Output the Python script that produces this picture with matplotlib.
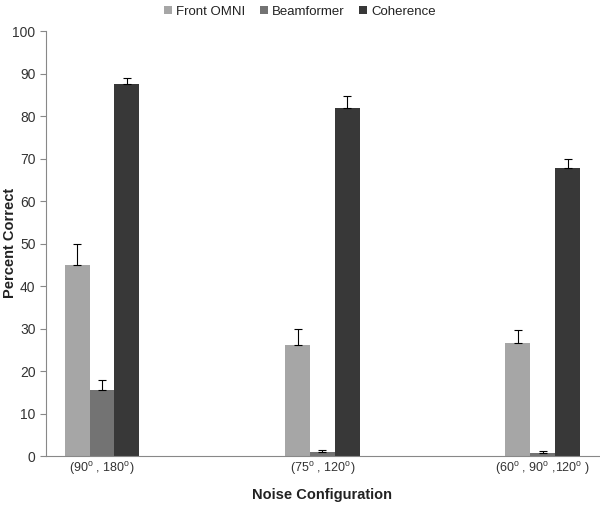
import matplotlib.pyplot as plt
import numpy as np

categories = [r'(90$^{\rm o}$ , 180$^{\rm o}$)', r'(75$^{\rm o}$ , 120$^{\rm o}$)', r'(60$^{\rm o}$ , 90$^{\rm o}$ ,120$^{\rm o}$ )']
series = ['Front OMNI', 'Beamformer', 'Coherence']
front = [45.0, 26.2, 26.5]
beam = [15.5, 1.0, 0.7]
coh = [87.5, 82.0, 67.7]
front_err = [5.0, 3.6, 3.1]
beam_err = [2.5, 0.5, 0.4]
coh_err = [1.5, 2.8, 2.3]
colors = ['#a6a6a6', '#737373', '#383838']

plt.rcParams['font.family'] = ['Liberation Sans', 'DejaVu Sans']
plt.rcParams['mathtext.fontset'] = 'custom'
plt.rcParams['mathtext.rm'] = 'Liberation Sans'
fig = plt.figure(figsize=(6, 5.05), dpi=100)
ax = fig.add_axes([0.0767, 0.097, 0.921, 0.8416])

x = np.arange(len(categories))
w = 0.113
handles = []
for i, (vals, errs) in enumerate([(front, front_err), (beam, beam_err), (coh, coh_err)]):
    b = ax.bar(x + (i - 1) * w, vals, w, color=colors[i], label=series[i],
               yerr=[np.zeros(len(errs)), errs], capsize=3,
               error_kw=dict(elinewidth=0.8, ecolor='black', capthick=0.8))
    handles.append(b)

ax.set_xlim(-0.254, 2.253)
ax.set_ylim(0, 100)
ax.set_yticks(range(0, 101, 10))
ax.set_xticks(x)
ax.set_xticklabels(categories, fontsize=9)
ax.tick_params(axis='y', labelsize=10, colors='#333333', length=4, color='#888888')
ax.tick_params(axis='x', length=0, pad=3, colors='#333333')
for s in ['top', 'right']:
    ax.spines[s].set_visible(False)
for s in ['left', 'bottom']:
    ax.spines[s].set_color('#888888')
    ax.spines[s].set_linewidth(0.8)

fig.text(10 / 600, 1 - 243 / 505, 'Percent Correct', rotation=90, ha='center', va='center',
         fontsize=10.5, fontweight='bold', color='#222222')
fig.text(322 / 600, 1 - 495 / 505, 'Noise Configuration', ha='center', va='center',
         fontsize=10.5, fontweight='bold', color='#222222')
fig.legend(handles=handles, loc='upper center', bbox_to_anchor=(0.5, 1.012), ncol=3, frameon=False,
           fontsize=9.5, handlelength=0.6, handleheight=0.6, handletextpad=0.3, columnspacing=1.1,
           labelcolor='#222222')

fig.savefig('out.png', dpi=100)
